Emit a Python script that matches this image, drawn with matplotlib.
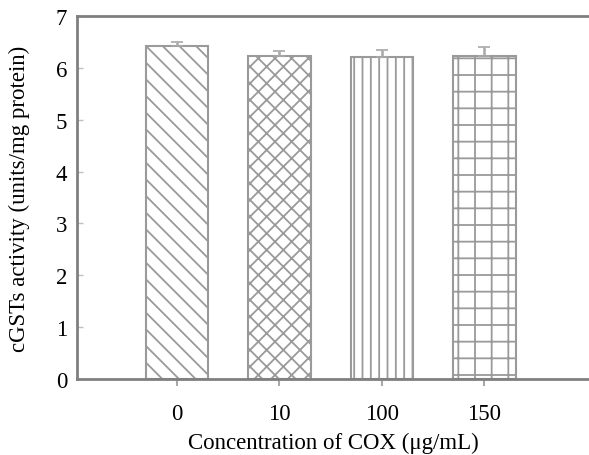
import matplotlib.pyplot as plt
import numpy as np

plt.rcParams['font.family'] = ['Liberation Serif', 'DejaVu Serif']
plt.rcParams['hatch.linewidth'] = 1.3
plt.rcParams['hatch.color'] = '#8a8a8a'

conc = ['0', '10', '100', '150']
activity = [6.43, 6.23, 6.20, 6.23]
err = [0.06, 0.09, 0.14, 0.18]
hatches = ['\\\\', 'xx', '||', '+']

fig = plt.figure(figsize=(5.89, 4.56), dpi=100)
ax = fig.add_axes([0.1307, 0.1667, 0.8693, 0.7960])

x = np.arange(len(conc))
bars = ax.bar(x, activity, width=0.61, color='white', edgecolor='#9a9a9a',
              linewidth=1.5, zorder=2)
for b, h in zip(bars, hatches):
    b.set_hatch(h)
ax.errorbar(x, activity, yerr=[np.zeros(len(err)), err], fmt='none',
            ecolor='#a8a8a8', elinewidth=1.8, capsize=4, capthick=1.2, zorder=3)

ax.set_xlim(-0.976, 4.02)
ax.set_ylim(0, 7)
ax.set_xticks(x)
ax.set_xticklabels(conc)
ax.set_yticks(range(0, 8))

for s in ['left', 'bottom', 'top']:
    ax.spines[s].set_color('#808080')
    ax.spines[s].set_linewidth(2)
ax.spines['right'].set_visible(False)
ax.tick_params(axis='x', direction='out', length=5, width=1.5, color='#a8a8a8',
               labelsize=16.5, pad=12)
ax.tick_params(axis='y', direction='in', length=4, width=1, color='#c0c0c0',
               labelsize=16.5, pad=7)

ax.set_xlabel('Concentration of COX (μg/mL)', fontsize=16.5, labelpad=6)
ax.set_ylabel('cGSTs activity (units/mg protein)', fontsize=16.5)
ax.yaxis.set_label_coords(-0.092, 0.5)

fig.savefig('out.png', dpi=100)
